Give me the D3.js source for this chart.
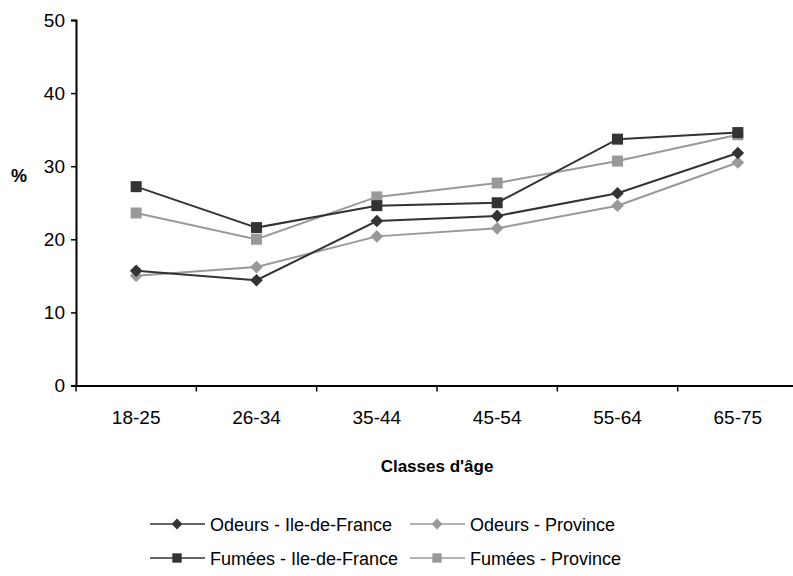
<!DOCTYPE html>
<html>
<head>
<meta charset="utf-8">
<script src="https://cdn.jsdelivr.net/npm/d3@7"></script>
<style>
  html, body { margin: 0; padding: 0; background: #fff; }
  svg { display: block; font-family: "Liberation Sans", Arial, sans-serif; }
</style>
</head>
<body>
<svg id="chart" width="793" height="576"></svg>
<script>
// Age classes on the x axis
const categories = ["18-25", "26-34", "35-44", "45-54", "55-64", "65-75"];

// Share of people reporting nuisances (%)
const odeursIDF  = [15.7, 14.4, 22.5, 23.2, 26.3, 31.8];
const odeursProv = [15.0, 16.2, 20.4, 21.5, 24.6, 30.5];
const fumeesIDF  = [27.2, 21.6, 24.6, 25.0, 33.7, 34.6];
const fumeesProv = [23.6, 20.0, 25.8, 27.7, 30.7, 34.3];

const yTicks = [0, 10, 20, 30, 40, 50];

const seriesNames = [
  "Odeurs - Ile-de-France",
  "Odeurs - Province",
  "Fumées - Ile-de-France",
  "Fumées - Province"
];

const dark = "#333333", light = "#999999";

const series = [
  { name: seriesNames[0], values: odeursIDF,  color: dark,  shape: "diamond" },
  { name: seriesNames[1], values: odeursProv, color: light, shape: "diamond" },
  { name: seriesNames[2], values: fumeesIDF,  color: dark,  shape: "square" },
  { name: seriesNames[3], values: fumeesProv, color: light, shape: "square" }
];

const svg = d3.select("#chart");

const x = d3.scaleBand().domain(categories).range([76, 798]).padding(0);
const y = d3.scaleLinear().domain([0, 50]).range([385.5, 20]);

// Y axis
const yAxis = svg.append("g")
  .attr("transform", "translate(76,0)")
  .call(d3.axisLeft(y).tickValues(yTicks).tickSize(5).tickPadding(6));
yAxis.select(".domain").attr("stroke", "#000").attr("stroke-width", 2);
yAxis.selectAll(".tick line").attr("stroke", "#000").attr("stroke-width", 1.5);
yAxis.selectAll(".tick text")
  .attr("font-size", 19).attr("fill", "#000")
  .attr("font-family", "Liberation Sans, Arial, sans-serif");

// X axis with ticks at band edges
const xAxis = svg.append("g")
  .attr("transform", "translate(0,385.5)")
  .call(d3.axisBottom(x).tickSize(0).tickPadding(25));
xAxis.select(".domain").attr("stroke", "#000").attr("stroke-width", 2);
xAxis.selectAll(".tick text")
  .attr("font-size", 19).attr("fill", "#000")
  .attr("font-family", "Liberation Sans, Arial, sans-serif");
xAxis.selectAll(".edge")
  .data(categories)
  .enter().append("line")
  .attr("x1", d => x(d)).attr("x2", d => x(d))
  .attr("y1", 0).attr("y2", 6)
  .attr("stroke", "#000").attr("stroke-width", 1.5);

// Axis titles
svg.append("text")
  .attr("x", 437).attr("y", 472)
  .attr("text-anchor", "middle")
  .attr("font-size", 17).attr("font-weight", "bold")
  .text("Classes d'âge");

svg.append("text")
  .attr("x", 19).attr("y", 182)
  .attr("text-anchor", "middle")
  .attr("font-size", 18).attr("font-weight", "bold")
  .text("%");

// Markers
const symDiamond = d3.symbol().type(d3.symbolSquare).size(80);
const symSquare = d3.symbol().type(d3.symbolSquare).size(121);

function drawMarker(g, shape, color, cx, cy, scale) {
  const k = scale || 1;
  if (shape === "diamond") {
    g.append("path")
      .attr("d", symDiamond())
      .attr("transform", `translate(${cx},${cy}) rotate(45) scale(${k})`)
      .attr("fill", color);
  } else {
    g.append("path")
      .attr("d", symSquare())
      .attr("transform", `translate(${cx},${cy}) scale(${k})`)
      .attr("fill", color);
  }
}

const line = d3.line()
  .x((d, i) => x(categories[i]) + x.bandwidth() / 2)
  .y(d => y(d));

// Light series first, dark ones on top
const drawOrder = [1, 3, 0, 2];
drawOrder.forEach(k => {
  const s = series[k];
  const g = svg.append("g");
  g.append("path")
    .attr("d", line(s.values))
    .attr("fill", "none")
    .attr("stroke", s.color)
    .attr("stroke-width", 2);
  s.values.forEach((v, i) => {
    drawMarker(g, s.shape, s.color, x(categories[i]) + x.bandwidth() / 2, y(v));
  });
});

// Legend
const legendPos = [
  { lx: 150, ly: 524 },
  { lx: 410, ly: 524 },
  { lx: 150, ly: 558 },
  { lx: 410, ly: 558 }
];
series.forEach((s, k) => {
  const p = legendPos[k];
  const g = svg.append("g");
  g.append("line")
    .attr("x1", p.lx).attr("x2", p.lx + 55)
    .attr("y1", p.ly).attr("y2", p.ly)
    .attr("stroke", s.color).attr("stroke-width", 1.5);
  drawMarker(g, s.shape, s.color, p.lx + 27, p.ly, 0.85);
  g.append("text")
    .attr("x", p.lx + 60).attr("y", p.ly + 6.5)
    .attr("font-size", 18).attr("fill", "#000")
    .text(s.name);
});
</script>
</body>
</html>
